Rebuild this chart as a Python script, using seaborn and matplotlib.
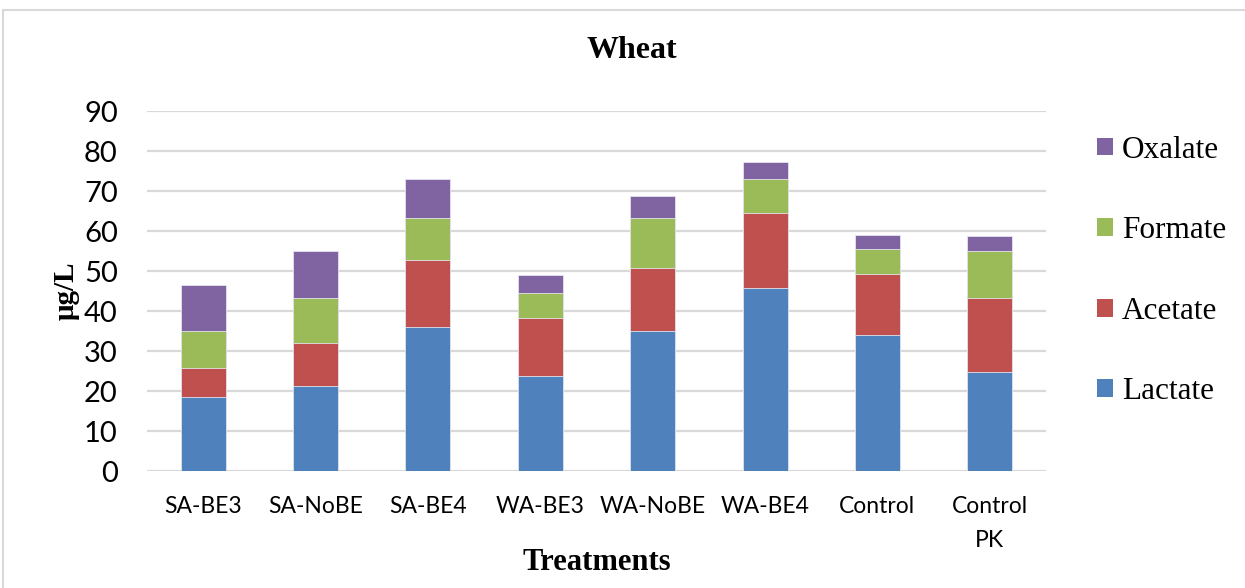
import matplotlib
matplotlib.use("Agg")
import matplotlib.pyplot as plt
from matplotlib.patches import Patch, Rectangle
import numpy as np
import pandas as pd
import seaborn as sns

treatments = ["SA-BE3", "SA-NoBE", "SA-BE4", "WA-BE3", "WA-NoBE", "WA-BE4", "Control", "Control\nPK"]
lactate = [18.5, 21.3, 35.9, 23.8, 35.0, 45.7, 34.1, 24.7]
acetate = [7.2, 10.7, 16.9, 14.5, 15.8, 18.8, 15.2, 18.6]
formate = [9.4, 11.2, 10.4, 6.2, 12.4, 8.4, 6.2, 11.7]
oxalate = [11.3, 11.8, 9.7, 4.6, 5.5, 4.4, 3.4, 3.7]

acids = ["Lactate", "Acetate", "Formate", "Oxalate"]
colors = {"Lactate": "#4F81BD", "Acetate": "#C0504D", "Formate": "#9BBB59", "Oxalate": "#8064A2"}

df = pd.DataFrame({"treatment": treatments, "Lactate": lactate, "Acetate": acetate,
                   "Formate": formate, "Oxalate": oxalate})
# cumulative tops so bars can be layered back to front
cum = df[acids].cumsum(axis=1)
cum["treatment"] = df["treatment"]

sns.set_style("white")
serif = ["Liberation Serif", "DejaVu Serif"]
sans = ["Lato", "DejaVu Sans"]

fig = plt.figure(figsize=(12.45, 5.88), dpi=100)
ax = fig.add_axes([147 / 1245, 1 - 471 / 588, (1046 - 147) / 1245, 360 / 588])

for acid in reversed(acids):
    sns.barplot(data=cum, x="treatment", y=acid, color=colors[acid], width=0.4,
                saturation=1, edgecolor="#e4e4ee", linewidth=0.6, ax=ax, zorder=3)

ax.set_ylim(0, 90)
ax.set_yticks(np.arange(0, 91, 10))
ax.set_xlim(-0.5, len(treatments) - 0.5)
ax.yaxis.grid(True, color="#d9d9d9", linewidth=1.6, zorder=0)
ax.set_axisbelow(True)
for s in ax.spines.values():
    s.set_visible(False)
ax.tick_params(axis="both", length=0, colors="black")
ax.tick_params(axis="y", pad=21)
ax.tick_params(axis="x", pad=18)
for lab in ax.get_yticklabels():
    lab.set_family(sans)
    lab.set_fontsize(21)
for lab in ax.get_xticklabels():
    lab.set_family(sans)
    lab.set_fontsize(16.5)
    lab.set_linespacing(1.75)

ax.set_xlabel("Treatments", family=serif, fontsize=22, fontweight="bold", color="black")
ax.set_ylabel("μg/L", family=serif, fontsize=21, fontweight="bold", color="black")
ax.yaxis.set_label_coords(-0.075, 0.5)
ax.xaxis.set_label_coords(0.5, -0.215)

fig.text(632 / 1245, 1 - 50 / 588, "Wheat", family=serif, fontsize=23, fontweight="bold",
         color="black", ha="center", va="center")

handles = [Patch(facecolor=colors[a], edgecolor="none") for a in reversed(acids)]
leg = fig.legend(handles, list(reversed(acids)), loc="center left",
                 bbox_to_anchor=(1097 / 1245, 1 - 271 / 588), frameon=False,
                 prop={"family": serif, "size": 22.5}, handlelength=0.5, handleheight=0.5,
                 handletextpad=0.3, labelspacing=1.65, borderpad=0, borderaxespad=0)
for t in leg.get_texts():
    t.set_color("black")

fig.patches.append(Rectangle((3 / 1245, -0.05), 1.1, 1.05 - 10.5 / 588,
                             transform=fig.transFigure, fill=False,
                             edgecolor="#d9d9d9", linewidth=1.5))

fig.savefig("out.png", dpi=100, facecolor="white")
